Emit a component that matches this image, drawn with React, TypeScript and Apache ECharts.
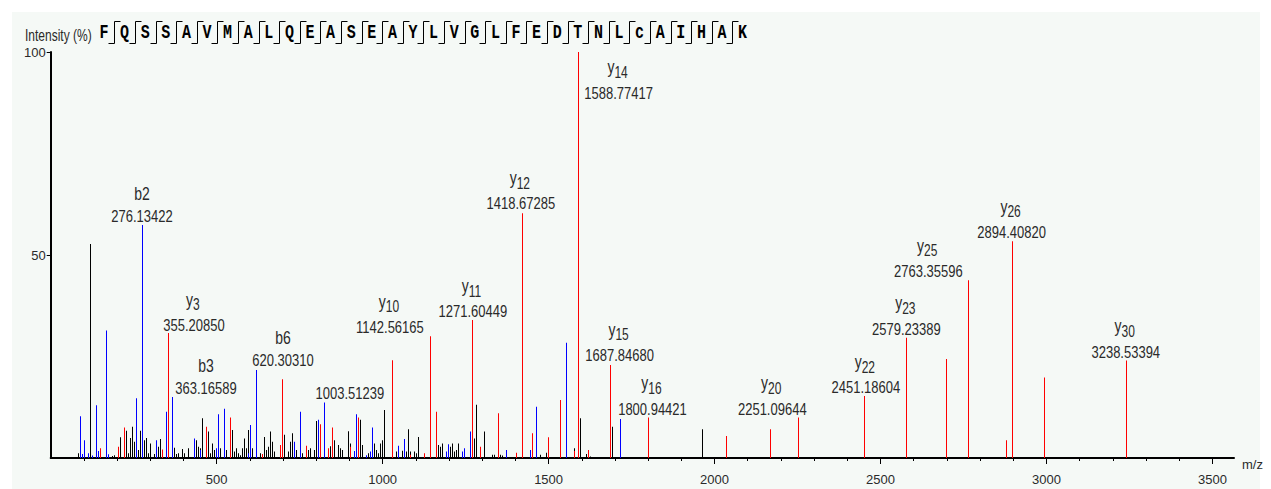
import React, { useEffect, useRef } from "react";
import * as echarts from "echarts";

// ---------- DATA ----------
const sequence = ["F","Q","S","S","A","V","M","A","L","Q","E","A","S","E","A","Y","L","V","G","L","F","E","D","T","N","L","c","A","I","H","A","K"];

const xMajorTicks = [500, 1000, 1500, 2000, 2500, 3000, 3500];
const yTicks = [50, 100];

// y-ions (red) [m/z, relative intensity %]
const yIonPeaks: [number, number][] = [
  [148.5, 2.4], [200.6, 2.8], [218.7, 7.5], [337.3, 2.1], [355.2, 30.8], [469.9, 7.7], [542.2, 10.0],
  [635.5, 1.0], [690.7, 3.2], [698.8, 19.4], [766.9, 3.0], [814.2, 8.3], [836.1, 2.4], [846.4, 7.5],
  [899.4, 2.8], [928.6, 10.0], [1027.1, 24.1], [1085.0, 0.8], [1127.4, 1.2], [1142.6, 30.0], [1162.7, 11.4],
  [1271.6, 34.0], [1291.0, 2.8], [1346.4, 11.0], [1403.6, 1.3], [1418.7, 60.3], [1448.8, 6.1], [1498.8, 5.1],
  [1533.1, 14.3], [1574.0, 1.7], [1588.8, 100], [1621.4, 2.0], [1687.8, 22.9], [1800.9, 10.0], [2034.9, 5.4],
  [2164.5, 7.1], [2251.1, 10.0], [2451.2, 15.3], [2579.2, 29.6], [2695.8, 24.4], [2763.4, 43.8], [2877.4, 4.4],
  [2894.4, 53.4], [2994.9, 19.8], [3238.5, 24.0]
];

// b-ions (blue)
const bIonPeaks: [number, number][] = [
  [86.1, 10.3], [94.3, 1.0], [101.2, 4.4], [110.2, 1.2], [126.5, 0.6], [135.5, 13.0], [143.4, 1.7],
  [165.7, 31.4], [173.5, 0.9], [259.0, 14.7], [276.1, 57.4], [317.2, 4.4], [345.2, 11.4], [363.2, 15.0],
  [432.5, 4.8], [452.7, 2.0], [497.0, 2.4], [503.0, 10.8], [520.0, 0.7], [522.9, 12.1], [597.0, 1.2],
  [602.4, 8.1], [620.3, 21.7], [733.7, 4.0], [735.8, 2.0], [751.8, 11.4], [804.2, 9.4], [823.2, 13.7],
  [916.6, 1.7], [919.6, 10.8], [951.8, 0.7], [963.9, 1.6], [966.9, 7.5], [1047.0, 3.0], [1064.2, 4.7],
  [1190.7, 1.6], [1194.6, 3.4], [1238.0, 1.6], [1248.0, 2.4], [1263.0, 6.5], [1370.5, 2.0], [1443.7, 2.0],
  [1461.7, 12.6], [1537.0, 5.7], [1551.2, 28.4], [1715.7, 9.6]
];

// unassigned (black)
const otherPeaks: [number, number][] = [
  [83.0, 1.2], [120.5, 52.7], [151.5, 0.7], [183.7, 0.5], [188.6, 0.7], [205.7, 2.0], [210.8, 5.1],
  [223.8, 1.2], [228.9, 6.7], [235.0, 1.2], [238.9, 4.9], [247.0, 7.7], [251.8, 4.0], [263.9, 2.0],
  [269.0, 6.7], [281.9, 4.4], [289.2, 4.9], [294.0, 1.2], [301.2, 3.6], [309.0, 1.0], [326.2, 2.8],
  [329.2, 4.7], [371.4, 2.5], [377.4, 1.0], [384.3, 1.2], [394.6, 2.2], [404.5, 1.2], [411.4, 2.4],
  [439.8, 4.4], [445.8, 2.8], [449.7, 2.4], [457.8, 9.8], [474.7, 6.5], [479.8, 1.2], [484.9, 3.6],
  [489.8, 2.0], [510.0, 2.4], [530.0, 2.0], [547.0, 6.9], [553.0, 1.6], [558.0, 2.4], [563.0, 1.2],
  [570.0, 0.7], [578.0, 2.4], [583.0, 4.8], [588.0, 2.4], [593.4, 6.9], [608.4, 2.4], [630.4, 1.2],
  [640.4, 2.8], [643.4, 5.2], [648.5, 2.0], [653.6, 2.8], [658.4, 6.5], [663.6, 3.2], [668.7, 4.0],
  [675.6, 1.6], [693.7, 2.4], [703.6, 5.7], [713.9, 1.6], [723.8, 4.0], [728.9, 6.1], [741.0, 2.0],
  [757.8, 1.2], [774.0, 2.0], [781.0, 2.4], [791.0, 2.0], [801.2, 9.1], [840.4, 2.9], [856.3, 4.4],
  [863.3, 3.2], [869.3, 2.4], [876.5, 2.0], [893.4, 6.6], [904.5, 3.6], [933.7, 9.4], [938.6, 3.2],
  [956.6, 1.2], [971.7, 3.6], [974.7, 3.2], [979.8, 2.0], [986.7, 1.2], [991.9, 3.6], [997.0, 4.4],
  [1003.9, 11.8], [1030.0, 6.6], [1042.2, 1.6], [1057.2, 1.8], [1069.2, 1.6], [1077.1, 7.1], [1082.2, 1.6],
  [1092.2, 1.6], [1100.3, 1.2], [1104.2, 5.2], [1165.7, 3.2], [1174.7, 2.8], [1180.7, 3.6], [1202.7, 2.8],
  [1210.8, 3.6], [1217.8, 1.6], [1220.8, 2.0], [1229.8, 3.6], [1266.0, 2.0], [1278.0, 4.8], [1283.1, 13.1],
  [1306.0, 6.5], [1330.0, 0.8], [1338.0, 0.8], [1350.3, 5.0], [1353.0, 0.8], [1358.4, 0.6], [1374.4, 1.6],
  [1421.7, 7.3], [1446.7, 0.8], [1471.7, 0.8], [1491.0, 1.3], [1579.2, 2.4], [1592.2, 9.8], [1614.5, 1.0],
  [1624.4, 0.4], [1689.8, 7.7], [1963.9, 7.1]
];

// peak annotations: ion name, mass text, anchor (m/z, intensity) of the mass line
const labelNames = ["b2", "y3", "b3", "b6", "", "y10", "y11", "y12", "y14", "y15", "y16", "y20", "y22", "y23", "y25", "y26", "y30"];
const labelMasses = ["276.13422", "355.20850", "363.16589", "620.30310", "1003.51239", "1142.56165", "1271.60449", "1418.67285", "1588.77417", "1687.84680", "1800.94421", "2251.09644", "2451.18604", "2579.23389", "2763.35596", "2894.40820", "3238.53394"];
const labelMz = [275, 431.6, 467.8, 699.7, 901.5, 1022, 1272, 1416.6, 1711, 1714, 1813, 2174, 2456, 2578, 2644, 2895, 3239];
const labelIntensity = [59.6, 32.8, 17.2, 24.1, 16.0, 32.3, 36.2, 62.8, 90.0, 25.4, 12.2, 12.2, 17.5, 31.9, 46.1, 55.7, 26.2];

// ---------- STYLE ----------
const FONT = "'Liberation Sans', Arial, Helvetica, sans-serif";
const TEXT = "#2a2a2a";
const X_MAX = 3565;

function stickSeries(name: string, data: [number, number][], color: string, z: number) {
  return {
    name,
    type: "custom",
    data,
    encode: { x: 0, y: 1 },
    silent: true,
    z,
    itemStyle: { color },
    renderItem: (_p: any, api: any) => {
      const base = api.coord([api.value(0), 0]);
      const top = api.coord([api.value(0), api.value(1)]);
      // snap to an even device pixel so the 1px stick keeps its hue
      const x = 2 * Math.round(base[0] / 2);
      return {
        type: "rect",
        shape: { x, y: top[1], width: 1, height: base[1] - top[1] },
        style: { fill: color, stroke: null },
      };
    },
  };
}

export default function App() {
  const ref = useRef<HTMLDivElement>(null);

  useEffect(() => {
    if (!ref.current) return;
    const chart = echarts.init(ref.current, undefined, { renderer: "svg" });

    const minorTicks: number[] = [];
    for (let v = 100; v < X_MAX; v += 100) if (v % 500 !== 0) minorTicks.push(v);

    const headerEls: any[] = [
      {
        type: "rect",
        shape: { x: 12, y: 12, width: 1248, height: 477 },
        style: { fill: "#f5f9f6" },
        z: -100,
        silent: true,
      },
      {
        type: "text",
        x: 25,
        y: 35,
        scaleY: 1.3,
        style: { text: "Intensity (%)", fontSize: 12, fontFamily: FONT, fill: TEXT, align: "left", verticalAlign: "middle" },
      },
    ];
    const seqX0 = 104;
    const seqStep = 20.6;
    sequence.forEach((aa, i) => {
      headerEls.push({
        type: "text",
        x: seqX0 + i * seqStep,
        y: 32,
        scaleY: 1.4,
        style: {
          text: aa,
          fontSize: 15,
          fontWeight: "bold",
          fontFamily: "'Liberation Mono', 'DejaVu Sans Mono', monospace",
          fill: "#000",
          align: "center",
          verticalAlign: "middle",
        },
      });
      if (i < sequence.length - 1) {
        const sx = Math.round(seqX0 + (i + 0.5) * seqStep) + 0.5;
        headerEls.push({
          type: "polyline",
          shape: { points: [[sx - 6, 43.5], [sx, 43.5], [sx, 21.5], [sx + 6, 21.5]] },
          style: { stroke: "#000", lineWidth: 1, fill: "none" },
        });
      }
    });

    const labelData = labelMz.map((m, i) => [m, labelIntensity[i], i]);

    const option: any = {
      animation: false,
      backgroundColor: "#ffffff",
      grid: { left: 50.7, right: 37, top: 52, bottom: 31, containLabel: false, outerBoundsMode: "none" },
      xAxis: [
        {
          type: "value",
          min: 0,
          max: X_MAX,
          position: "bottom",
          name: "m/z",
          nameLocation: "end",
          nameGap: 8,
          nameTextStyle: { fontSize: 13, fontFamily: FONT, color: TEXT, align: "left", verticalAlign: "top" },
          axisLine: { show: true, lineStyle: { color: "#000", width: 2 } },
          axisTick: { show: true, length: 6, lineStyle: { color: "#000", width: 1 }, customValues: xMajorTicks },
          axisLabel: {
            show: true, fontSize: 13, fontFamily: FONT, color: TEXT, margin: 15,
            customValues: xMajorTicks, formatter: (v: number) => String(v),
          },
          splitLine: { show: false },
        },
        {
          type: "value",
          min: 0,
          max: X_MAX,
          position: "bottom",
          axisLine: { show: false },
          axisTick: { show: true, length: 3, lineStyle: { color: "#000", width: 1 }, customValues: minorTicks },
          axisLabel: { show: false },
          splitLine: { show: false },
        },
      ],
      yAxis: {
        type: "value",
        min: 0,
        max: 100,
        interval: 50,
        axisLine: { show: true, lineStyle: { color: "#000", width: 2 } },
        axisTick: { show: true, length: 4, lineStyle: { color: "#000", width: 1 }, customValues: yTicks },
        axisLabel: {
          show: true, fontSize: 13, fontFamily: FONT, color: TEXT, margin: 5,
          customValues: yTicks, formatter: (v: number) => String(v),
        },
        splitLine: { show: false },
      },
      graphic: headerEls,
      series: [
        stickSeries("unassigned", otherPeaks, "#000000", 2),
        stickSeries("b ions", bIonPeaks, "#0000ff", 3),
        stickSeries("y ions", yIonPeaks, "#ff0000", 4),
        {
          name: "annotations",
          type: "custom",
          data: labelData,
          encode: { x: 0, y: 1 },
          silent: true,
          z: 5,
          renderItem: (_p: any, api: any) => {
            const i = api.value(2);
            const pt = api.coord([api.value(0), api.value(1)]);
            const cx = pt[0];
            const cy = pt[1];
            const base = { fontFamily: FONT, fill: TEXT, verticalAlign: "middle" };
            const children: any[] = [
              { type: "text", x: cx, y: cy, scaleY: 1.3, style: { ...base, text: labelMasses[i], fontSize: 13, align: "center" } },
            ];
            const nm = labelNames[i];
            if (nm.startsWith("y")) {
              const sub = nm.slice(1);
              const wy = 7;
              const ws = 6.7 * sub.length;
              const bx = cx - (wy + ws) / 2 + wy - 1;
              children.push({ type: "text", x: bx, y: cy - 26, scaleY: 1.3, style: { ...base, text: "y", fontSize: 14, align: "right" } });
              children.push({ type: "text", x: bx, y: cy - 20, scaleY: 1.3, style: { ...base, text: sub, fontSize: 12, align: "left" } });
            } else if (nm) {
              children.push({ type: "text", x: cx, y: cy - 23, scaleY: 1.3, style: { ...base, text: nm, fontSize: 14, align: "center" } });
            }
            return { type: "group", children };
          },
        },
      ],
    };

    chart.setOption(option);
    return () => chart.dispose();
  }, []);

  return (
    <div
      ref={ref}
      style={{ position: "absolute", left: 0, top: 0, width: 1271, height: 489 }}
    />
  );
}
